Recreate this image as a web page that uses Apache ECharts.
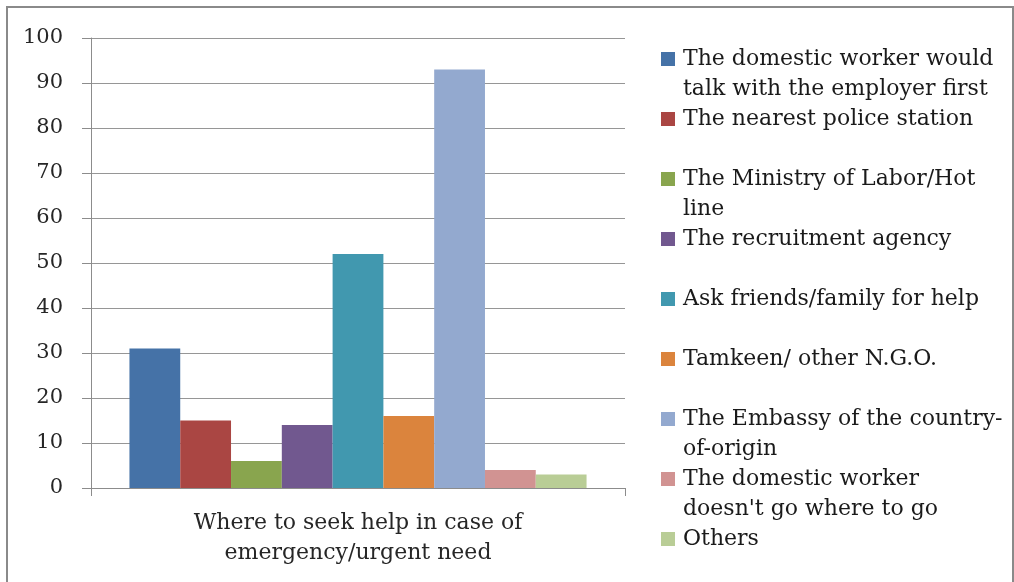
<!DOCTYPE html>
<html>
<head>
<meta charset="utf-8">
<script src="https://cdn.jsdelivr.net/npm/echarts@6/dist/echarts.min.js"></script>
<style>
html,body{margin:0;padding:0;background:#fff;}
#chart{width:1014px;height:582px;}
</style>
</head>
<body>
<div id="chart"></div>
<script>
const categories = ['Where to seek help in case of\nemergency/urgent need'];
const seriesNames = [
  'The domestic worker would\ntalk with the employer first',
  'The nearest police station',
  'The Ministry of Labor/Hot\nline',
  'The recruitment agency',
  'Ask friends/family for help',
  'Tamkeen/ other N.G.O.',
  'The Embassy of the country-\nof-origin',
  "The domestic worker\ndoesn't go where to go",
  'Others'
];
const seriesValues = [31, 15, 6, 14, 52, 16, 93, 4, 3];
const seriesColors = ['#4572A7', '#AA4643', '#89A54E', '#71588F', '#4198AF', '#DB843D', '#93A9CF', '#D19392', '#B9CD96'];
const yTicks = {min: 0, max: 100, interval: 10};

const FONT = 'DejaVu Serif';
const chart = echarts.init(document.getElementById('chart'));

const series = seriesNames.map((name, i) => ({
  name: name,
  type: 'bar',
  data: [seriesValues[i]],
  barGap: '0%',
  barCategoryGap: '14.4%',
  itemStyle: {color: seriesColors[i]},
  emphasis: {disabled: true}
}));

chart.setOption({
  animation: false,
  backgroundColor: '#ffffff',
  textStyle: {fontFamily: FONT},
  graphic: [{
    type: 'rect',
    shape: {x: 7, y: 7, width: 1006, height: 578},
    style: {fill: 'none', stroke: '#8a8a8a', lineWidth: 2},
    silent: true
  }],
  grid: {left: 91, right: 389, top: 38, bottom: 94, containLabel: false},
  legend: {
    orient: 'vertical',
    left: 661,
    top: 14,
    height: 700,
    padding: 0,
    itemGap: -30,
    itemWidth: 14,
    itemHeight: 14,
    icon: 'rect',
    selectedMode: false,
    data: seriesNames,
    formatter: function (name) {
      return name.indexOf('\n') >= 0 ? '\n' + name : '\n' + name + '\n';
    },
    textStyle: {fontFamily: FONT, fontSize: 22, lineHeight: 30, color: '#1a1a1a', padding: [0, 0, 0, 3]}
  },
  xAxis: {
    type: 'category',
    data: categories,
    axisLine: {show: true, lineStyle: {color: '#8c8c8c', width: 1}},
    axisTick: {show: true, length: 8, lineStyle: {color: '#8c8c8c'}},
    axisLabel: {margin: 20, fontFamily: FONT, fontSize: 22, lineHeight: 30, color: '#262626'},
    splitLine: {show: false}
  },
  yAxis: {
    type: 'value',
    min: yTicks.min,
    max: yTicks.max,
    interval: yTicks.interval,
    axisLine: {show: true, lineStyle: {color: '#8c8c8c', width: 1}},
    axisTick: {show: true, length: 9, lineStyle: {color: '#8c8c8c'}},
    axisLabel: {margin: 28, fontFamily: FONT, fontSize: 21, color: '#262626'},
    splitLine: {show: true, lineStyle: {color: '#969696', width: 1}}
  },
  series: series
});
</script>
</body>
</html>
